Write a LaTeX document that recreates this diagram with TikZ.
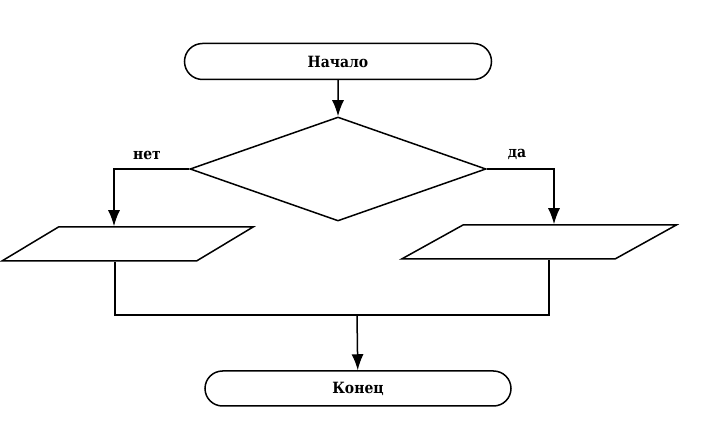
\documentclass[tikz,border=0pt]{standalone}
\usepackage{fontspec}
\setmainfont{DejaVu Serif Condensed}
\usetikzlibrary{positioning,shapes.geometric,shapes.misc,arrows.meta}

\tikzset{
  term/.style={draw, rounded rectangle, minimum height=36pt, inner sep=0pt},
  io/.style={draw, trapezium, inner ysep=17pt},
  pfeil/.style={-{Latex[length=16pt,width=12pt]}},
  txt/.style={font=\fontsize{15.5}{18}\selectfont\bfseries}
}

\begin{document}
\begin{tikzpicture}[x=1pt,y=-1pt,line width=1.5pt]
 \useasboundingbox (0,0) rectangle (707,443);
 \node[term, txt, minimum width=307pt] (start) at (338,61.5){Начало};
 \node[draw, diamond, minimum width=296pt, minimum height=104pt, inner sep=0pt] (cond) at (338,169){};
 \node[io, trapezium left angle=31, trapezium right angle=149, inner xsep=69pt] (inl) at (127.5,244){};
 \node[io, trapezium left angle=29, trapezium right angle=151, inner xsep=76pt] (inr) at (539,242){};
 \node[term, txt, minimum width=306pt, minimum height=35pt] (stop) at (358,388.5){Конец};
 \node[txt] (no) at (147,155){нет};
 \node[txt] (yes) at (517,154){да};
 \coordinate (join) at (357,315);
% Verzweigung links und rechts, unten wieder zusammen
 \draw[pfeil] (start) -- (cond);
 \draw[pfeil] (cond.west) -| ([xshift=-13.5pt]inl.north);
 \draw[pfeil] (cond.east) -| ([xshift=15pt]inr.north);
 \draw ([xshift=-12.5pt]inl.south) |- (join) -| ([xshift=10pt]inr.south);
 \draw[pfeil] (join) -- (stop);
\end{tikzpicture}
\end{document}
